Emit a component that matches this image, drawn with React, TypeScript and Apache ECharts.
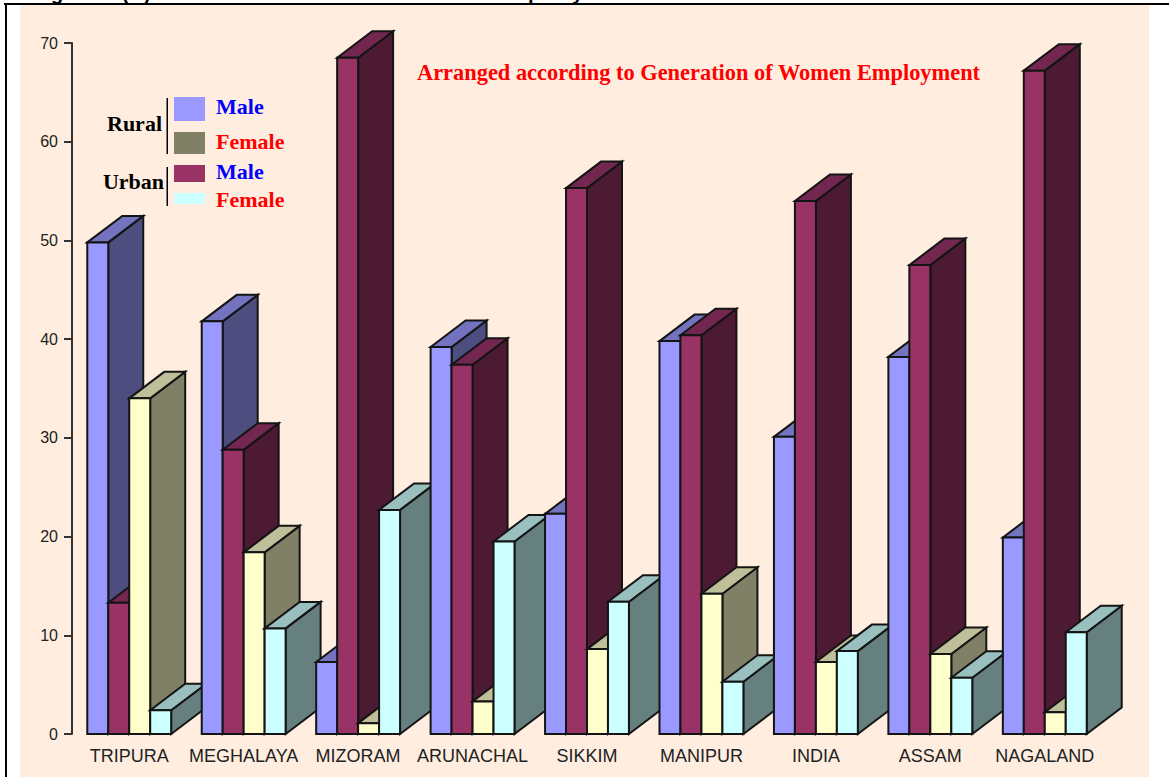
import React, { useEffect, useRef } from "react";
import * as echarts from "echarts";

const categories = ["TRIPURA", "MEGHALAYA", "MIZORAM", "ARUNACHAL", "SIKKIM", "MANIPUR", "INDIA", "ASSAM", "NAGALAND"];
const ruralMale = [49.8, 41.8, 7.3, 39.2, 22.3, 39.8, 30.1, 38.2, 19.9];
const urbanMale = [13.3, 28.8, 68.5, 37.4, 55.3, 40.4, 54.0, 47.5, 67.2];
const ruralFemale = [34.0, 18.4, 1.1, 3.3, 8.6, 14.2, 7.3, 8.1, 2.2];
const urbanFemale = [2.4, 10.7, 22.7, 19.5, 13.4, 5.3, 8.4, 5.7, 10.3];
const subtitle = "Arranged according to Generation of Women Employment";

const faces = [
  { front: "#9999FF", top: "#7373BF", side: "#4D4D80" },
  { front: "#993366", top: "#732650", side: "#4D1A33" },
  { front: "#FFFFCC", top: "#BFBF99", side: "#808066" },
  { front: "#CCFFFF", top: "#99BFBF", side: "#668080" },
];

const DEPTH_X = 35;
const DEPTH_Y = -26.5;
const STROKE = "#141414";
const serif = "'Liberation Serif', serif";
const sans = "'Liberation Sans', Arial, sans-serif";

const renderItem = (_params: any, api: any) => {
  const idx = api.value(0);
  const band = api.size([1, 0])[0];
  const center = api.coord([idx, 0]);
  const barW = (band * 0.733) / 4;
  const x0 = center[0] - barW * 2;
  const children: any[] = [];
  faces.forEach((f, s) => {
    const yTop = api.coord([idx, api.value(s + 1)])[1];
    const yBase = center[1];
    const l = x0 + s * barW;
    const r = l + barW;
    const style = (fill: string) => ({ fill, stroke: STROKE, lineWidth: 2, lineJoin: "miter" });
    children.push({
      type: "polygon",
      shape: { points: [[r, yBase], [r + DEPTH_X, yBase + DEPTH_Y], [r + DEPTH_X, yTop + DEPTH_Y], [r, yTop]] },
      style: style(f.side),
    });
    children.push({
      type: "polygon",
      shape: { points: [[l, yTop], [l + DEPTH_X, yTop + DEPTH_Y], [r + DEPTH_X, yTop + DEPTH_Y], [r, yTop]] },
      style: style(f.top),
    });
    children.push({
      type: "polygon",
      shape: { points: [[l, yBase], [l, yTop], [r, yTop], [r, yBase]] },
      style: style(f.front),
    });
  });
  return { type: "group", children };
};

const legendText = (text: string, x: number, y: number, fill: string, align = "left", size = 22) => ({
  type: "text",
  x,
  y,
  z: 5,
  style: { text, fill, font: `bold ${size}px ${serif}`, textAlign: align, textVerticalAlign: "middle" },
});

const swatch = (x: number, y: number, w: number, h: number, fill: string) => ({
  type: "rect",
  z: 5,
  shape: { x, y, width: w, height: h },
  style: { fill },
});

const clippedGlyph = (text: string, x: number) => ({
  type: "text",
  x,
  y: 3,
  z: -9,
  style: { text, fill: "#000", font: `bold 20px ${sans}`, textAlign: "left", textVerticalAlign: "bottom" },
});

export default function App() {
  const ref = useRef<HTMLDivElement>(null);
  useEffect(() => {
    document.body.style.margin = "0";
    const chart = echarts.init(ref.current!, undefined, { renderer: "svg" });
    chart.setOption({
      animation: false,
      backgroundColor: "#ffffff",
      grid: { left: 72, top: 43, width: 1030, height: 691 },
      xAxis: {
        type: "category",
        data: categories,
        axisLine: { show: false },
        axisTick: { show: false },
        axisLabel: { color: "#222", fontFamily: sans, fontSize: 18, margin: 13, interval: 0 },
      },
      yAxis: {
        type: "value",
        min: 0,
        max: 70,
        interval: 10,
        axisLine: { show: true, lineStyle: { color: "#333", width: 2 } },
        axisTick: { show: true, length: 8, lineStyle: { color: "#333", width: 2 } },
        axisLabel: { color: "#222", fontFamily: sans, fontSize: 16, margin: 14 },
        splitLine: { show: false },
      },
      graphic: [
        { type: "rect", z: -10, shape: { x: 20, y: 5, width: 1129, height: 772 }, style: { fill: "#FFEEDF" } },
        { type: "rect", z: -9, shape: { x: 4, y: 3, width: 1165, height: 2 }, style: { fill: "#000" } },
        { type: "rect", z: -9, shape: { x: 5, y: 3, width: 2, height: 774 }, style: { fill: "#000" } },
        clippedGlyph("g", 51),
        clippedGlyph("(", 122),
        clippedGlyph(")", 144),
        clippedGlyph("p", 528),
        clippedGlyph("y", 572),
        {
          type: "text", x: 417, y: 72, z: 5,
          style: { text: subtitle, fill: "#FF0000", font: `bold 22.4px ${serif}`, textAlign: "left", textVerticalAlign: "middle" },
        },
        swatch(174, 97, 31, 24, faces[0].front),
        swatch(174, 132, 31, 22, faces[2].side),
        swatch(174, 165, 31, 17, faces[1].front),
        swatch(174, 193, 31, 11, faces[3].front),
        swatch(166.5, 98, 1.5, 56, "#000"),
        swatch(166.5, 167, 1.5, 39, "#000"),
        legendText("Rural", 162, 123, "#000", "right"),
        legendText("Urban", 164, 181, "#000", "right"),
        legendText("Male", 216, 106, "#0000FF"),
        legendText("Female", 216, 141, "#FF0000"),
        legendText("Male", 216, 171, "#0000FF"),
        legendText("Female", 216, 199, "#FF0000"),
      ],
      series: [
        {
          type: "custom",
          coordinateSystem: "cartesian2d",
          clip: false,
          renderItem,
          encode: { x: 0, y: [1, 2, 3, 4] },
          data: categories.map((_, i) => [i, ruralMale[i], urbanMale[i], ruralFemale[i], urbanFemale[i]]),
        },
      ],
    });
    return () => chart.dispose();
  }, []);
  return <div ref={ref} style={{ width: 1169, height: 777 }} />;
}
